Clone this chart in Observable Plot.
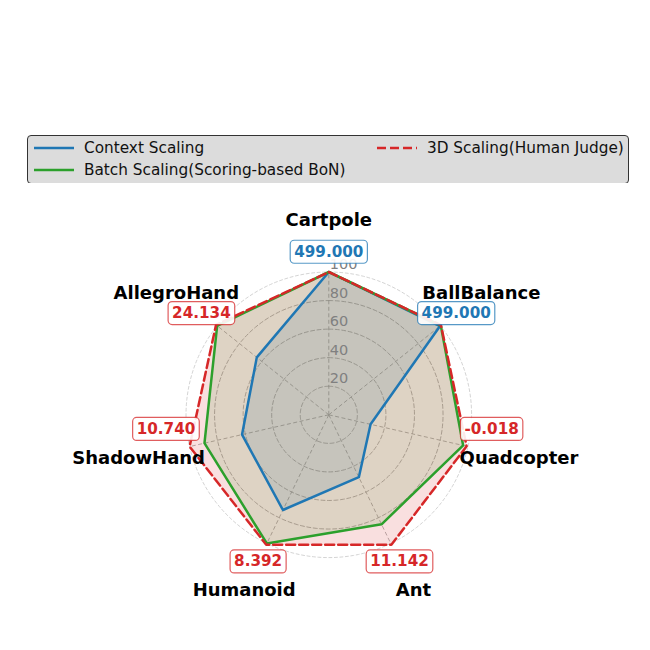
<!DOCTYPE html>
<html><head><meta charset="utf-8">
<script src="https://cdn.jsdelivr.net/npm/d3@7"></script>
<script src="https://cdn.jsdelivr.net/npm/@observablehq/plot@0.6"></script>
<style>
body{margin:0;background:#fff;font-family:"DejaVu Sans",sans-serif;}
#wrap{width:650px;height:650px;position:relative;overflow:hidden;}
#legend{position:absolute;left:27px;top:135px;width:602px;height:49px;box-sizing:border-box;background:#dcdcdc;border:1px solid #333;border-radius:4px;}
.item{position:absolute;display:flex;align-items:center;font-size:15.3px;color:#111;white-space:nowrap;height:22px;}
.item svg{margin-right:10px;}
#chart{position:absolute;left:0;top:183px;}
</style></head><body>
<div id="wrap"><div id="legend"></div><div id="chart"></div></div>
<script>
// ---- data ----
const categories = ["Cartpole","BallBalance","Quadcopter","Ant","Humanoid","ShadowHand","AllegroHand"];
const seriesNames = ["Context Scaling","Batch Scaling(Scoring-based BoN)","3D Scaling(Human Judge)"];
const contextScaling = [100, 99.5, 30, 48.5, 74, 62.3, 64.5];
const batchScaling   = [100, 100.3, 96.5, 85.1, 100, 89.3, 100];
const scaling3D      = [100, 100.5, 99, 101, 101, 100, 101];
const bestValueLabels = ["499.000","499.000","-0.018","11.142","8.392","10.740","24.134"];
const bestSeries = ["Context Scaling","Context Scaling","3D Scaling(Human Judge)","3D Scaling(Human Judge)","3D Scaling(Human Judge)","3D Scaling(Human Judge)","3D Scaling(Human Judge)"];
const radialTicks = [20, 40, 60, 80, 100];

// ---- styles ----
const seriesColors = ["#1f77b4", "#2ca02c", "#d62728"];
const seriesDash = [null, null, "9,4"];
const seriesValues = [contextScaling, batchScaling, scaling3D];

// ---- geometry ----
const W = 650, H = 467;
const cx = 328.3, cy = 231.3, k = 1.428;
const n = categories.length;
const ang = i => 2 * Math.PI * i / n;
const px = (r, i) => r * Math.sin(ang(i));
const py = (r, i) => r * Math.cos(ang(i));

const series = seriesNames.map((name, s) =>
  categories.map((c, i) => ({series: name, cat: c, i, v: seriesValues[s][i]})));

const colorOf = name => seriesColors[seriesNames.indexOf(name)];

const gridCircles = radialTicks.map(t => d3.range(0, 361, 2).map(a => ({t, a: a * Math.PI / 180})));

const marks = [];
// grid circles
gridCircles.forEach(pts => {
  const outer = pts[0].t === radialTicks[radialTicks.length - 1];
  marks.push(Plot.line(pts, {
    x: d => d.t * Math.sin(d.a), y: d => d.t * Math.cos(d.a),
    stroke: outer ? "#cfcfcf" : "#ababab", strokeWidth: 0.9, strokeDasharray: outer ? "3,2.5" : "4,2.5"
  }));
});
// spokes
marks.push(Plot.link(categories, {
  x1: () => 0, y1: () => 0,
  x2: (d, i) => px(100, i), y2: (d, i) => py(100, i),
  stroke: "#ababab", strokeWidth: 0.9, strokeDasharray: "4,2.5"
}));
// fills
series.forEach((pts, s) => {
  marks.push(Plot.line(pts, {
    x: d => px(d.v, d.i), y: d => py(d.v, d.i),
    curve: "linear-closed", fill: seriesColors[s], fillOpacity: 0.15, stroke: null
  }));
});
// lines
series.forEach((pts, s) => {
  marks.push(Plot.line(pts, {
    x: d => px(d.v, d.i), y: d => py(d.v, d.i),
    curve: "linear-closed", stroke: seriesColors[s], strokeWidth: 2.5,
    strokeDasharray: seriesDash[s], strokeLinejoin: "round"
  }));
});
// radial tick labels
marks.push(Plot.text(radialTicks, {
  x: () => 0, y: d => d, text: d => String(d),
  textAnchor: "start", lineAnchor: "bottom", dx: 1, dy: -3,
  fill: "#808080", fontSize: 14.5
}));
// category names
marks.push(Plot.text(categories, {
  x: (d, i) => px(136.6, i), y: (d, i) => py(136.6, i), text: d => d,
  fontWeight: "bold", fontSize: 18, fill: "black"
}));
// best value labels
marks.push(Plot.text(bestValueLabels, {
  x: (d, i) => px(114.1, i), y: (d, i) => py(114.1, i), text: d => d,
  fontWeight: "bold", fontSize: 15.2, fill: (d, i) => colorOf(bestSeries[i]),
  ariaLabel: () => "value-label"
}));

const plot = Plot.plot({
  width: W, height: H,
  marginTop: 0, marginRight: 0, marginBottom: 0, marginLeft: 0,
  x: {domain: [-cx / k, (W - cx) / k], range: [0, W], axis: null},
  y: {domain: [-(H - cy) / k, cy / k], range: [H, 0], axis: null},
  color: {type: "identity"},
  style: {fontFamily: "DejaVu Sans, sans-serif", background: "white", overflow: "visible"},
  marks
});
document.getElementById("chart").appendChild(plot);

// shift side labels upward (matplotlib offset) and draw boxes behind value labels
const ns = "http://www.w3.org/2000/svg";
const labelTexts = Array.from(plot.querySelectorAll('text[aria-label="value-label"]'));
labelTexts.forEach((t, i) => {
  const c = Math.cos(ang(i)), sn = Math.sin(ang(i));
  const holder = document.createElementNS(ns, "g");
  if (Math.abs(c) < 0.3) holder.setAttribute("transform", `translate(${sn > 0 ? 4 : -4},-22)`);
  t.parentNode.insertBefore(holder, t);
  holder.appendChild(t);
  const b = t.getBBox();
  const tr = t.getAttribute("transform");
  const r = document.createElementNS(ns, "rect");
  r.setAttribute("x", b.x - 4); r.setAttribute("y", b.y - 2.5);
  r.setAttribute("width", b.width + 8); r.setAttribute("height", b.height + 5);
  r.setAttribute("rx", 4);
  r.setAttribute("fill", "white"); r.setAttribute("fill-opacity", 0.9);
  const col = colorOf(bestSeries[i]);
  r.setAttribute("stroke", col); r.setAttribute("stroke-opacity", 0.75); r.setAttribute("stroke-width", 1.2);
  if (tr) r.setAttribute("transform", tr);
  holder.insertBefore(r, t);
});

// legend
const legend = document.getElementById("legend");
const items = [
  {s: 0, left: 6, top: 1},
  {s: 1, left: 6, top: 23},
  {s: 2, left: 349, top: 1}
];
items.forEach(({s, left, top}) => {
  const div = document.createElement("div");
  div.className = "item";
  div.style.left = left + "px"; div.style.top = top + "px";
  const dash = seriesDash[s] ? `stroke-dasharray="${seriesDash[s].replace(",", " ")}"` : "";
  div.innerHTML = `<svg width="40" height="10"><line x1="0" y1="5" x2="40" y2="5" stroke="${seriesColors[s]}" stroke-width="2.5" ${dash}/></svg><span>${seriesNames[s]}</span>`;
  legend.appendChild(div);
});
</script>
</body></html>
